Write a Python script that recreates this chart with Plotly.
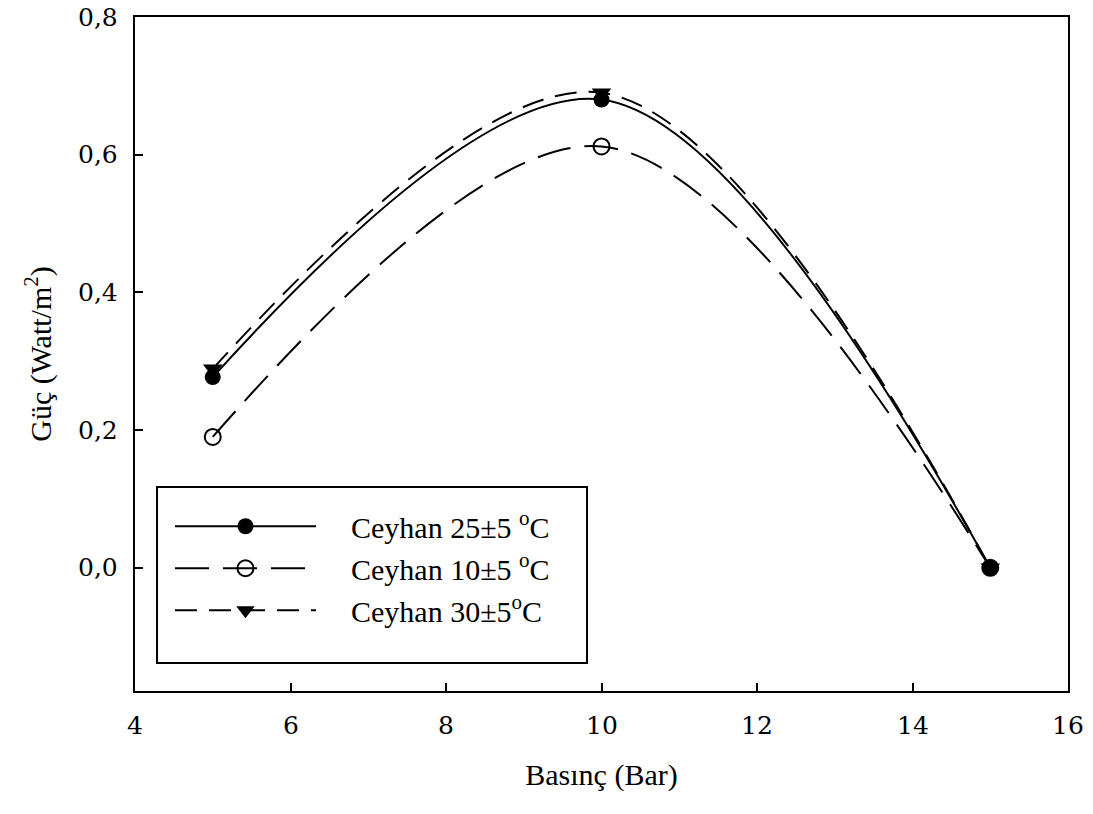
import plotly.graph_objects as go

pressure = [5, 10, 15]
power_25 = [0.277, 0.680, 0.0]
power_10 = [0.190, 0.612, 0.0]
power_30 = [0.289, 0.690, 0.0]

x_ticks = [4, 6, 8, 10, 12, 14, 16]
x_tick_labels = ["4", "6", "8", "10", "12", "14", "16"]
y_ticks = [0.0, 0.2, 0.4, 0.6, 0.8]
y_tick_labels = ["0,0", "0,2", "0,4", "0,6", "0,8"]

NB = "\u00a0"
names = [
    NB * 4 + "Ceyhan 25±5 <sup>o</sup>C",
    NB * 4 + "Ceyhan 10±5 <sup>o</sup>C",
    NB * 4 + "Ceyhan 30±5<sup>o</sup>C",
]

FONT = "Liberation Serif"
FS = 30
TXT = dict(family=FONT, size=FS, color="black")
TICK = dict(family="DejaVu Serif", size=25, color="black")

fig = go.Figure()
fig.add_trace(go.Scatter(
    x=pressure, y=power_25, name=names[0], mode="lines+markers",
    line=dict(color="black", width=2, shape="spline", dash="solid"),
    marker=dict(symbol="circle", size=16, color="black"),
))
fig.add_trace(go.Scatter(
    x=pressure, y=power_10, name=names[1], mode="lines+markers",
    line=dict(color="black", width=2, shape="spline", dash="34px,14px"),
    marker=dict(symbol="circle-open", size=16, color="black", line=dict(width=2, color="black")),
))
fig.add_trace(go.Scatter(
    x=pressure, y=power_30, name=names[2], mode="lines+markers",
    line=dict(color="black", width=2, shape="spline", dash="22px,12px"),
    marker=dict(symbol="triangle-down", size=17, color="black"),
))

# legend frame
fig.add_shape(type="rect", xref="paper", yref="paper",
              x0=0.0236, x1=0.4845, y0=0.0415, y1=0.3027,
              line=dict(color="black", width=2), fillcolor="rgba(0,0,0,0)", layer="above")

# tick labels (serif digits)
for v, t in zip(x_ticks, x_tick_labels):
    fig.add_annotation(x=v, y=0, xref="x", yref="paper", text=t, showarrow=False,
                       xanchor="center", yanchor="middle", yshift=-34, font=TICK)
for v, t in zip(y_ticks, y_tick_labels):
    fig.add_annotation(x=0, y=v, xref="paper", yref="y", text=t, showarrow=False,
                       xanchor="right", yanchor="middle", xshift=-15, font=TICK)

fig.update_layout(
    width=1085, height=806,
    paper_bgcolor="white", plot_bgcolor="white",
    separators=",.",
    font=TXT,
    margin=dict(l=127, r=25, t=9, b=123, autoexpand=False),
    showlegend=True,
    legend=dict(
        x=0.0375, y=0.283, xanchor="left", yanchor="top",
        borderwidth=0, bgcolor="rgba(0,0,0,0)",
        font=TXT,
        itemwidth=141, traceorder="normal",
    ),
    xaxis=dict(
        range=[4, 16], tickvals=x_ticks, showticklabels=False,
        showgrid=False, zeroline=False, automargin=False,
        showline=True, linecolor="black", linewidth=2, mirror=True,
        ticks="inside", ticklen=8, tickwidth=2, tickcolor="black",
        title=dict(text="Basınç (Bar)", font=TXT, standoff=72),
    ),
    yaxis=dict(
        range=[-0.179, 0.8], tickvals=y_ticks, showticklabels=False,
        showgrid=False, zeroline=False, automargin=False,
        showline=True, linecolor="black", linewidth=2, mirror=True,
        ticks="inside", ticklen=8, tickwidth=2, tickcolor="black",
        title=dict(text="Güç (Watt/m<sup>2</sup>)", font=TXT, standoff=73),
    ),
)

fig.write_html("out.html")
